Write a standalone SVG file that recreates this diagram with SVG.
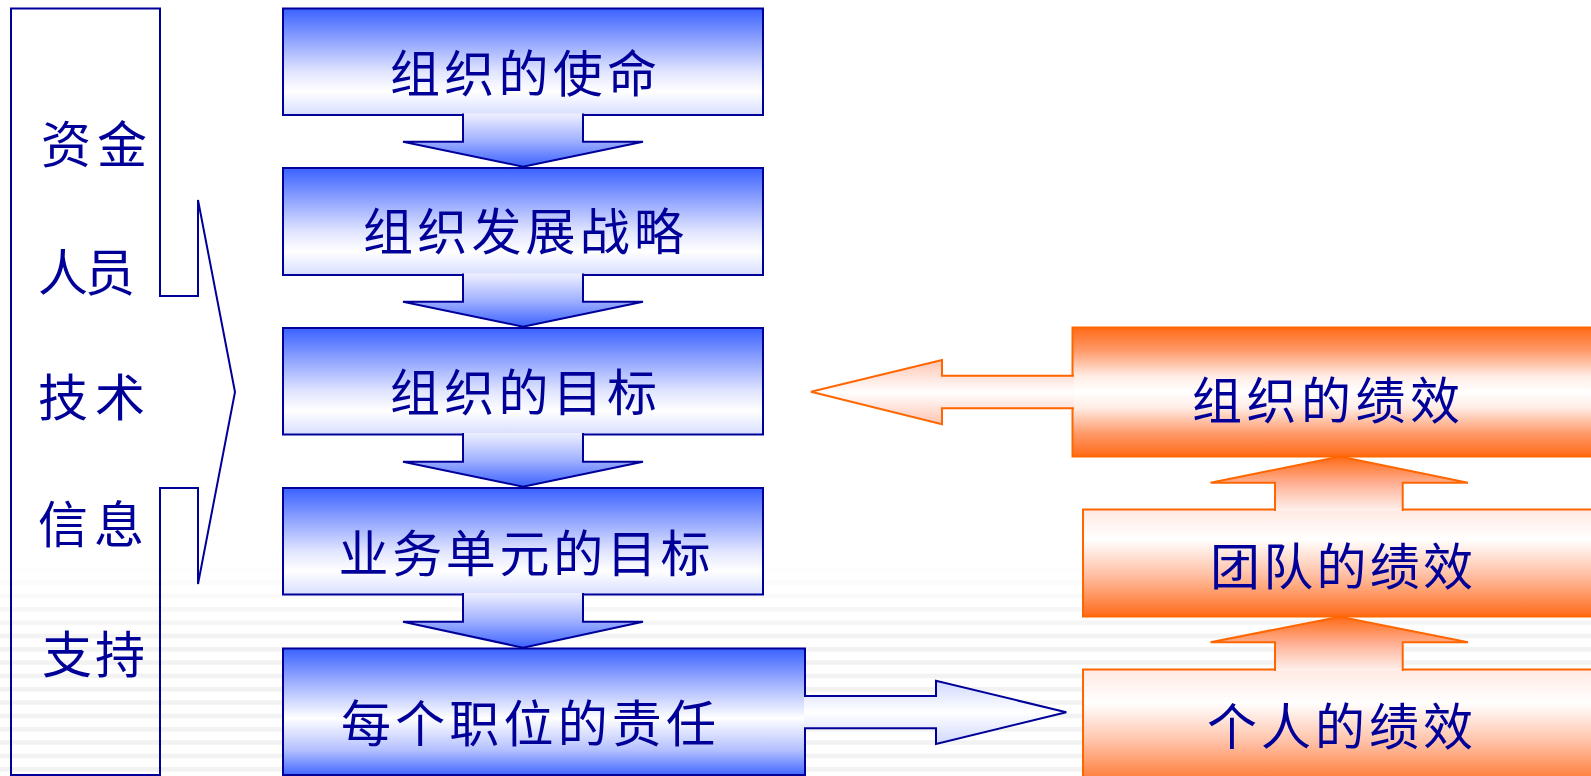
<svg xmlns="http://www.w3.org/2000/svg" width="1591" height="776" viewBox="0 0 1591 776">
  <defs>
    <style>
      .lbl { font-family: "Noto Sans CJK SC", "Noto Sans", sans-serif; font-size: 50px; fill: #000099; dominant-baseline: central; }
      .bl { stroke: #000099; stroke-width: 2; }
      .or { stroke: #FF6600; stroke-width: 2; }
      .conn { stroke-linejoin: miter; }
    </style>
    <!-- blue box shading: strong blue at the top fading to white -->
    <linearGradient id="gBox" x1="0" y1="0" x2="0" y2="1">
      <stop offset="0" stop-color="#3A62FF"/>
      <stop offset="0.3" stop-color="#90A4FF"/>
      <stop offset="0.6" stop-color="#E2E6FF"/>
      <stop offset="0.78" stop-color="#FFFFFF"/>
      <stop offset="1" stop-color="#D8DEFF"/>
    </linearGradient>
    <linearGradient id="gBoxTall" x1="0" y1="0" x2="0" y2="1">
      <stop offset="0" stop-color="#3A62FF"/>
      <stop offset="0.25" stop-color="#98AAFF"/>
      <stop offset="0.55" stop-color="#FFFFFF"/>
      <stop offset="0.8" stop-color="#B5C1FF"/>
      <stop offset="1" stop-color="#4468FF"/>
    </linearGradient>
    <linearGradient id="gDown" x1="0" y1="0" x2="0" y2="1">
      <stop offset="0" stop-color="#EEF0FF"/>
      <stop offset="0.5" stop-color="#A2B2FF"/>
      <stop offset="1" stop-color="#3C62FF"/>
    </linearGradient>
    <linearGradient id="gRight" x1="0" y1="0" x2="0" y2="1">
      <stop offset="0" stop-color="#D0D8FF"/>
      <stop offset="0.5" stop-color="#FFFFFF"/>
      <stop offset="1" stop-color="#D0D8FF"/>
    </linearGradient>
    <!-- orange shading -->
    <linearGradient id="gCyl" x1="0" y1="0" x2="0" y2="1">
      <stop offset="0" stop-color="#FF6A15"/>
      <stop offset="0.18" stop-color="#FF9A6A"/>
      <stop offset="0.38" stop-color="#FFEDE6"/>
      <stop offset="0.5" stop-color="#FFFFFF"/>
      <stop offset="0.62" stop-color="#FFEDE6"/>
      <stop offset="0.82" stop-color="#FF9A6A"/>
      <stop offset="1" stop-color="#FF6A15"/>
    </linearGradient>
    <linearGradient id="gOrBox" x1="0" y1="0" x2="0" y2="1">
      <stop offset="0" stop-color="#FFE9E2"/>
      <stop offset="0.28" stop-color="#FFFFFF"/>
      <stop offset="0.6" stop-color="#FFC2A8"/>
      <stop offset="1" stop-color="#FF6A1A"/>
    </linearGradient>
    <linearGradient id="gUp" x1="0" y1="0" x2="0" y2="1">
      <stop offset="0" stop-color="#FF6A15"/>
      <stop offset="0.5" stop-color="#FFB196"/>
      <stop offset="1" stop-color="#FFF2EE"/>
    </linearGradient>
    <linearGradient id="gLeft" x1="0" y1="0" x2="0" y2="1">
      <stop offset="0" stop-color="#FFC4B2"/>
      <stop offset="0.5" stop-color="#FFFFFF"/>
      <stop offset="1" stop-color="#FFC4B2"/>
    </linearGradient>
    <!-- faint horizontal ruling in the lower background -->
    <pattern id="ruling" x="0" y="567" width="20" height="13.33" patternUnits="userSpaceOnUse">
      <rect x="0" y="0" width="20" height="4.5" fill="#F2F2F2"/>
    </pattern>
    <linearGradient id="gFade" x1="0" y1="0" x2="0" y2="1">
      <stop offset="0" stop-color="#fff" stop-opacity="0"/>
      <stop offset="0.4" stop-color="#fff" stop-opacity="1"/>
      <stop offset="1" stop-color="#fff" stop-opacity="1"/>
    </linearGradient>
    <mask id="fadeMask" maskUnits="userSpaceOnUse" x="0" y="555" width="1591" height="221">
      <rect x="0" y="555" width="1591" height="221" fill="url(#gFade)"/>
    </mask>
  </defs>

  <rect x="0" y="0" width="1591" height="776" fill="#FFFFFF"/>
  <rect x="0" y="560" width="1591" height="216" fill="url(#ruling)" mask="url(#fadeMask)"/>

  <!-- resource bracket on the left -->
  <g id="resources">
    <polygon class="bl" fill="none" points="11,8.5 160,8.5 160,296 198,296 198,200 235,392 198,584 198,488 160,488 160,775 11,775"/>
    <text class="lbl" x="41" y="141" textLength="106" lengthAdjust="spacing">资金</text>
    <text class="lbl" x="38" y="269" textLength="97" lengthAdjust="spacing">人员</text>
    <text class="lbl" x="38" y="394" textLength="107" lengthAdjust="spacing">技术</text>
    <text class="lbl" x="38" y="521" textLength="106" lengthAdjust="spacing">信息</text>
    <text class="lbl" x="42" y="651" textLength="103" lengthAdjust="spacing">支持</text>
  </g>

  <!-- goal cascade -->
  <g id="mission">
    <rect class="bl" x="283" y="8.5" width="480" height="106.5" fill="url(#gBox)"/>
    <text class="lbl" x="390" y="70" textLength="267" lengthAdjust="spacing">组织的使命</text>
  </g>
  <g id="strategy">
    <rect class="bl" x="283" y="168" width="480" height="107" fill="url(#gBox)"/>
    <text class="lbl" x="363" y="228" textLength="321" lengthAdjust="spacing">组织发展战略</text>
  </g>
  <g id="org-goals">
    <rect class="bl" x="283" y="328" width="480" height="106.5" fill="url(#gBox)"/>
    <text class="lbl" x="390" y="389" textLength="267" lengthAdjust="spacing">组织的目标</text>
  </g>
  <g id="unit-goals">
    <rect class="bl" x="283" y="488" width="480" height="106.5" fill="url(#gBox)"/>
    <text class="lbl" x="338.5" y="550" textLength="372" lengthAdjust="spacing">业务单元的目标</text>
  </g>
  <g id="position-duty">
    <rect class="bl" x="283" y="648.5" width="522" height="126.5" fill="url(#gBoxTall)"/>
    <text class="lbl" x="341" y="720" textLength="375" lengthAdjust="spacing">每个职位的责任</text>
  </g>

  <!-- performance stack -->
  <g id="org-perf">
    <rect class="or" x="1072.5" y="327.5" width="540" height="129" fill="url(#gCyl)"/>
    <text class="lbl" x="1192" y="397" textLength="268" lengthAdjust="spacing">组织的绩效</text>
  </g>
  <g id="team-perf">
    <rect class="or" x="1083" y="509.5" width="530" height="107" fill="url(#gOrBox)"/>
    <text class="lbl" x="1210" y="563" textLength="263" lengthAdjust="spacing">团队的绩效</text>
  </g>
  <g id="indiv-perf">
    <rect class="or" x="1083" y="669.5" width="530" height="120" fill="url(#gOrBox)"/>
    <text class="lbl" x="1207" y="723" textLength="266" lengthAdjust="spacing">个人的绩效</text>
  </g>

  <!-- connectors: open outlines so each shaft merges into its source box -->
  <g id="connectors" class="conn">
    <path class="bl" fill="url(#gDown)" d="M463,113.5 V141.7 H403 L523,166.7 L643,141.7 H583 V113.5"/>
    <path class="bl" fill="url(#gDown)" d="M463,273.5 V301.7 H403 L523,326.7 L643,301.7 H583 V273.5"/>
    <path class="bl" fill="url(#gDown)" d="M463,433 V461.7 H403 L523,486.7 L643,461.7 H583 V433"/>
    <path class="bl" fill="url(#gDown)" d="M463,593 V621.7 H403 L523,647.7 L643,621.7 H583 V593"/>
    <path class="bl" fill="url(#gRight)" d="M804,696 H936 V680.7 L1066.3,712.3 L936,744 V728.3 H804"/>
    <path class="or" fill="url(#gLeft)" d="M1074,375.7 H942 V360 L811,391.7 L942,424.3 V408.3 H1074"/>
    <path class="or" fill="url(#gUp)" d="M1275,511 V482.7 H1210.5 L1340,456.5 L1468,482.7 H1402.7 V511"/>
    <path class="or" fill="url(#gUp)" d="M1275,671 V642.3 H1210.5 L1340,616.7 L1468,642.3 H1402.7 V671"/>
  </g>
</svg>
